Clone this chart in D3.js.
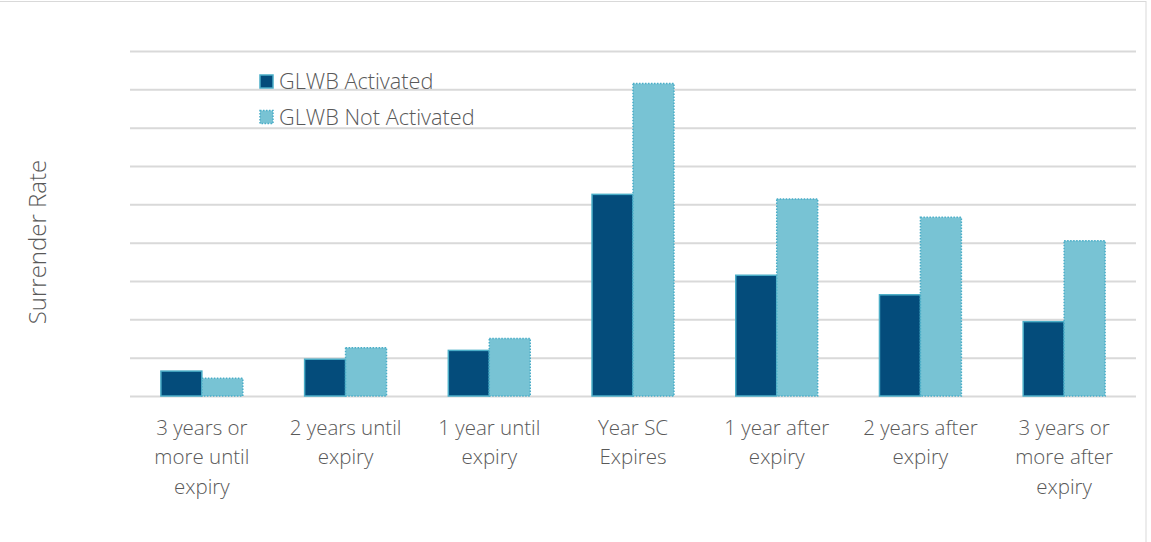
<!DOCTYPE html>
<html>
<head>
<meta charset="utf-8">
<script src="https://cdn.jsdelivr.net/npm/d3@7"></script>
<style>
body{margin:0;background:#fff;}
svg{display:block;font-family:"Open Sans","Noto Sans",sans-serif;}
</style>
</head>
<body>
<svg id="myGraph" width="1151" height="542"></svg>
<script>
// data (gridline = 1 unit, no y labels shown)
var categories = ["3 years or\nmore until\nexpiry","2 years until\nexpiry","1 year until\nexpiry","Year SC\nExpires","1 year after\nexpiry","2 years after\nexpiry","3 years or\nmore after\nexpiry"];
var seriesNames = ["GLWB Activated","GLWB Not Activated"];
var activated = [0.65, 0.96, 1.19, 5.26, 3.15, 2.64, 1.94];
var notActivated = [0.46, 1.26, 1.50, 8.15, 5.14, 4.66, 4.05];
var yTicks = [0,1,2,3,4,5,6,7,8,9];

var svg = d3.select("#myGraph");
var plotL = 130, plotR = 1136, plotT = 51, plotB = 396;

// outer border (top + right visible)
svg.append("rect")
  .attr("x",-2).attr("y",1.5).attr("width",1148).attr("height",560)
  .attr("fill","none").attr("stroke","#d9d9d9").attr("stroke-width",1);

var x0 = d3.scaleBand().domain(categories).range([plotL,plotR]).paddingInner(0.43).paddingOuter(0.215);
var x1 = d3.scaleBand().domain(seriesNames).range([0,x0.bandwidth()]);
var y = d3.scaleLinear().domain([0,9]).range([plotB,plotT]);

// gridlines
var grid = svg.append("g").attr("transform","translate("+plotL+",0)")
  .call(d3.axisLeft(y).tickValues(yTicks).tickSize(-(plotR-plotL)).tickFormat(""));
grid.select(".domain").remove();
grid.selectAll("line").attr("stroke","#d9d9d9").attr("stroke-width",2);

var rows = categories.map(function(c,i){
  return {cat:c, vals:[activated[i], notActivated[i]]};
});

var fills = ["#044c7b","#78c3d4"];
var g = svg.selectAll("g.grp").data(rows).enter().append("g")
  .attr("class","grp")
  .attr("transform",function(d){ return "translate("+x0(d.cat)+",0)"; });

g.selectAll("rect").data(function(d){ return d.vals; }).enter().append("rect")
  .attr("x",function(d,i){ return x1(seriesNames[i]); })
  .attr("y",function(d){ return y(d); })
  .attr("width",x1.bandwidth())
  .attr("height",function(d){ return plotB - y(d); })
  .attr("fill",function(d,i){ return fills[i]; })
  .attr("stroke","#4aadc7")
  .attr("stroke-width",1.5)
  .attr("stroke-dasharray",function(d,i){ return i==1 ? "1.5,1.5" : null; });

// x axis labels
var xa = svg.append("g").attr("transform","translate(0,"+plotB+")")
  .call(d3.axisBottom(x0).tickSize(0).tickPadding(0));
xa.attr("font-family",null).attr("font-size",null);
xa.select(".domain").remove();
xa.selectAll("text").each(function(d){
  var t = d3.select(this);
  t.text(null).attr("y",0).attr("dy",null)
   .attr("fill","#595959").style("font-size","20.5px").style("font-weight","300");
  d.split("\n").forEach(function(line,k){
    t.append("tspan").attr("x",0).attr("y",39 + k*29.3).text(line);
  });
});

// y label
svg.append("text")
  .attr("transform","translate(46,242) rotate(-90)")
  .attr("text-anchor","middle")
  .attr("fill","#595959").style("font-size","24px").style("font-weight","300")
  .text("Surrender Rate");

// legend
var leg = svg.selectAll("g.leg").data(seriesNames).enter().append("g")
  .attr("class","leg")
  .attr("transform",function(d,i){ return "translate(260,"+(75+i*35.5)+")"; });
leg.append("rect").attr("width",13).attr("height",13)
  .attr("fill",function(d,i){ return fills[i]; })
  .attr("stroke","#4aadc7").attr("stroke-width",1.5)
  .attr("stroke-dasharray",function(d,i){ return i==1 ? "1.5,1.5" : null; });
leg.append("text").attr("x",19).attr("y",14)
  .attr("fill","#595959").style("font-size","21.7px").style("font-weight","300")
  .text(function(d){ return d; });
</script>
</body>
</html>
